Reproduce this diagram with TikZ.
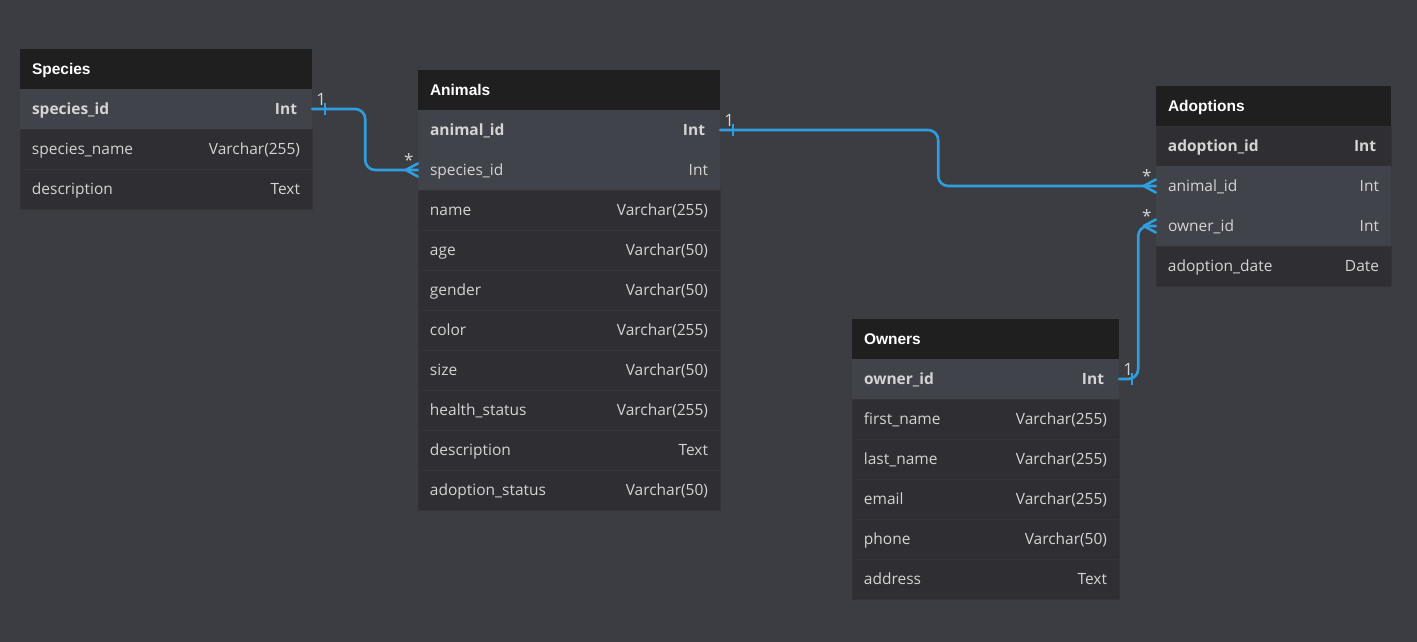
\documentclass[tikz,border=0pt]{standalone}
\usepackage{fontspec}
\setmainfont{Open Sans}
\newfontfamily\headfont{Liberation Sans}
\usetikzlibrary{calc}
\definecolor{bgc}{RGB}{60,61,66}
\definecolor{headc}{RGB}{31,31,31}
\definecolor{keyc}{RGB}{64,67,74}
\definecolor{rowc}{RGB}{46,46,51}
\definecolor{sepc}{RGB}{51,51,56}
\definecolor{txtc}{RGB}{212,212,212}
\definecolor{linkc}{RGB}{48,158,222}
\tikzset{
  rowbox/.style={rectangle, inner sep=0pt, minimum height=40pt, draw=sepc, line width=0.5pt},
  keybox/.style={rectangle, inner sep=0pt, minimum height=40pt},
  headbox/.style={rectangle, inner sep=0pt, minimum height=40pt, fill=headc},
  fieldtxt/.style={anchor=base west, inner sep=0pt, text=txtc, font=\fontsize{15.5}{18}\selectfont},
  typetxt/.style={anchor=base east, inner sep=0pt, text=txtc, font=\fontsize{15.5}{18}\selectfont},
  headtxt/.style={anchor=base west, inner sep=0pt, text=white, font=\headfont\bfseries\fontsize{15.5}{18}\selectfont},
  conn/.style={draw=linkc, line width=2.6pt, line cap=round, line join=round},
  tickmark/.style={draw=linkc, line width=1.8pt},
  cardlbl/.style={inner sep=0pt, text=txtc, font=\fontsize{17}{18}\selectfont}
}
% #1 name, #2 left x, #3 top y, #4 width, #5 title
\newcommand\tabhead[5]{%
  \node[headbox, minimum width=#4pt] (#1) at (#2pt+#4pt/2, -#3pt-20pt) {};
  \node[headtxt] at ([xshift=12pt,yshift=-5.5pt]#1.west) {#5};
}
% #1 name, #2 left x, #3 top y, #4 width, #5 box style, #6 field, #7 type
\newcommand\tabrow[7]{%
  \node[#5, minimum width=#4pt] (#1) at (#2pt+#4pt/2, -#3pt-20pt) {};
  \node[fieldtxt] at ([xshift=12pt,yshift=-5.5pt]#1.west) {#6};
  \node[typetxt] at ([xshift=-12pt,yshift=-5.5pt]#1.east) {#7};
}
\newcommand\tabkey[7]{%
  \node[#5, minimum width=#4pt] (#1) at (#2pt+#4pt/2, -#3pt-20pt) {};
  \node[fieldtxt, font=\bfseries\fontsize{15.5}{18}\selectfont] at ([xshift=12pt,yshift=-5.5pt]#1.west) {#6};
  \node[typetxt, font=\bfseries\fontsize{15.5}{18}\selectfont] at ([xshift=-15pt,yshift=-5.5pt]#1.east) {#7};
}
\newcommand\crowfoot[1]{%
  \draw[conn] ([xshift=-12pt]#1) -- ([yshift=6.5pt]#1);
  \draw[conn] ([xshift=-12pt]#1) -- ([yshift=-6.5pt]#1);
}
\newcommand\onetick[1]{%
  \draw[tickmark] ([xshift=13pt,yshift=6pt]#1) -- ([xshift=13pt,yshift=-6pt]#1);
}
\begin{document}
\begin{tikzpicture}[x=1pt,y=1pt]
\fill[bgc] (0,0) rectangle (1417,-642);
\useasboundingbox (0,0) rectangle (1417,-642);

% Species
\tabhead{spH}{20}{49}{292}{Species}
\tabkey{sp1}{20}{89}{292}{keybox, fill=keyc}{species\_id}{Int}
\tabrow{sp2}{20}{129}{292}{rowbox, fill=rowc}{species\_name}{Varchar(255)}
\tabrow{sp3}{20}{169}{292}{rowbox, fill=rowc}{description}{Text}

% Animals
\tabhead{anH}{418}{70}{302}{Animals}
\tabkey{an1}{418}{110}{302}{keybox, fill=keyc}{animal\_id}{Int}
\tabrow{an2}{418}{150}{302}{keybox, fill=keyc}{species\_id}{Int}
\tabrow{an3}{418}{190}{302}{rowbox, fill=rowc}{name}{Varchar(255)}
\tabrow{an4}{418}{230}{302}{rowbox, fill=rowc}{age}{Varchar(50)}
\tabrow{an5}{418}{270}{302}{rowbox, fill=rowc}{gender}{Varchar(50)}
\tabrow{an6}{418}{310}{302}{rowbox, fill=rowc}{color}{Varchar(255)}
\tabrow{an7}{418}{350}{302}{rowbox, fill=rowc}{size}{Varchar(50)}
\tabrow{an8}{418}{390}{302}{rowbox, fill=rowc}{health\_status}{Varchar(255)}
\tabrow{an9}{418}{430}{302}{rowbox, fill=rowc}{description}{Text}
\tabrow{an10}{418}{470}{302}{rowbox, fill=rowc}{adoption\_status}{Varchar(50)}

% Adoptions
\tabhead{adH}{1156}{86}{235}{Adoptions}
\tabkey{ad1}{1156}{126}{235}{rowbox, fill=rowc}{adoption\_id}{Int}
\tabrow{ad2}{1156}{166}{235}{keybox, fill=keyc}{animal\_id}{Int}
\tabrow{ad3}{1156}{206}{235}{keybox, fill=keyc}{owner\_id}{Int}
\tabrow{ad4}{1156}{246}{235}{rowbox, fill=rowc}{adoption\_date}{Date}

% Owners
\tabhead{owH}{852}{319}{267}{Owners}
\tabkey{ow1}{852}{359}{267}{keybox, fill=keyc}{owner\_id}{Int}
\tabrow{ow2}{852}{399}{267}{rowbox, fill=rowc}{first\_name}{Varchar(255)}
\tabrow{ow3}{852}{439}{267}{rowbox, fill=rowc}{last\_name}{Varchar(255)}
\tabrow{ow4}{852}{479}{267}{rowbox, fill=rowc}{email}{Varchar(255)}
\tabrow{ow5}{852}{519}{267}{rowbox, fill=rowc}{phone}{Varchar(50)}
\tabrow{ow6}{852}{559}{267}{rowbox, fill=rowc}{address}{Text}

% Species.species_id -> Animals.species_id
\draw[conn, rounded corners=10pt] (sp1.east) -- ++(53,0) |- (an2.west);
\onetick{sp1.east}
\crowfoot{an2.west}
\node[cardlbl] at ([xshift=9pt,yshift=10pt]sp1.east) {1};
\node[cardlbl] at ([xshift=-9pt,yshift=10pt]an2.west) {*};

% Animals.animal_id -> Adoptions.animal_id
\draw[conn, rounded corners=10pt] (an1.east) -- ++(218,0) |- (ad2.west);
\onetick{an1.east}
\crowfoot{ad2.west}
\node[cardlbl] at ([xshift=9pt,yshift=10pt]an1.east) {1};
\node[cardlbl] at ([xshift=-9pt,yshift=10pt]ad2.west) {*};

% Owners.owner_id -> Adoptions.owner_id
\draw[conn, rounded corners=10pt] (ow1.east) -- ++(19,0) |- (ad3.west);
\onetick{ow1.east}
\crowfoot{ad3.west}
\node[cardlbl] at ([xshift=9pt,yshift=10pt]ow1.east) {1};
\node[cardlbl] at ([xshift=-9pt,yshift=10pt]ad3.west) {*};
\end{tikzpicture}
\end{document}
